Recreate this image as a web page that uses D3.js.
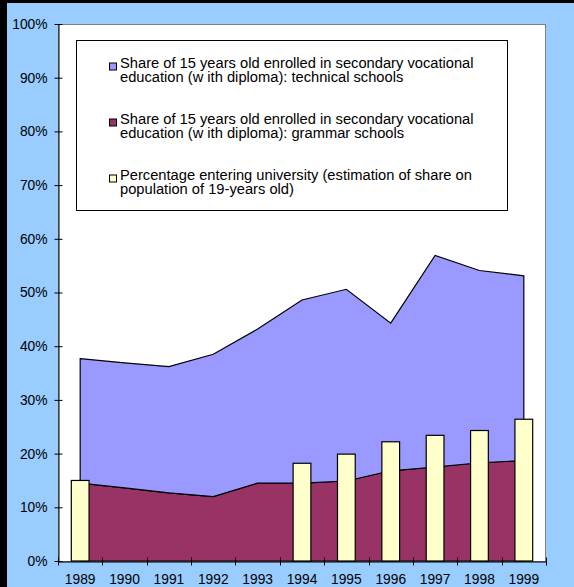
<!DOCTYPE html>
<html>
<head>
<meta charset="utf-8">
<script src="https://cdn.jsdelivr.net/npm/d3@7"></script>
<style>
  html, body { margin: 0; padding: 0; background: #99CCFF; }
  svg { display: block; }
  text { font-family: "Liberation Sans", Arial, sans-serif; fill: #000; }
</style>
</head>
<body>
<svg id="chart" width="574" height="587"></svg>
<script>
// Years on the category axis
const years = ["1989", "1990", "1991", "1992", "1993", "1994", "1995", "1996", "1997", "1998", "1999"];

// Share of 15-year-olds in grammar schools (lower stacked area)
const grammarSchools = [0.145, 0.136, 0.127, 0.120, 0.145, 0.145, 0.149, 0.168, 0.175, 0.183, 0.187];

// Share of 15-year-olds in technical schools (upper stacked area)
const technicalSchools = [0.232, 0.233, 0.235, 0.265, 0.287, 0.341, 0.357, 0.275, 0.394, 0.358, 0.344];

// Percentage entering university (columns; no figure for 1990-1993)
const universityEntry = [0.150, null, null, null, null, 0.182, 0.199, 0.222, 0.234, 0.243, 0.264];

// Value axis tick labels
const yTickValues = [0, 0.1, 0.2, 0.3, 0.4, 0.5, 0.6, 0.7, 0.8, 0.9, 1.0];

// Legend entries (each label is two lines)
const legendLabels = [
  ["Share of 15 years old enrolled in secondary vocational", "education (w ith diploma): technical schools"],
  ["Share of 15 years old enrolled in secondary vocational", "education (w ith diploma): grammar schools"],
  ["Percentage entering university (estimation of share on", "population of 19-years old)"]
];
const legendColors = ["#9999FF", "#993366", "#FFFFCC"];

const rows = years.map((y, i) => ({
  year: y,
  grammar: grammarSchools[i],
  technical: technicalSchools[i],
  university: universityEntry[i]
}));

const svg = d3.select("#chart");
const W = 574, H = 587;
const plot = { left: 58, right: 546, top: 24, bottom: 561 };

// Background and the dark frame edges
svg.append("rect").attr("width", W).attr("height", H).attr("fill", "#99CCFF");
svg.append("rect").attr("x", 0).attr("y", 0).attr("width", 7).attr("height", H).attr("fill", "#000");
svg.append("rect").attr("x", 0).attr("y", 0).attr("width", W).attr("height", 3).attr("fill", "#000");

const x = d3.scaleBand().domain(years).range([plot.left, plot.right]).padding(0);
const y = d3.scaleLinear().domain([0, 1]).range([plot.bottom, plot.top]);
const cx = d => x(d.data ? d.data.year : d.year) + x.bandwidth() / 2;

// Plot area
svg.append("rect")
  .attr("x", plot.left + 0.5).attr("y", plot.top + 0.5)
  .attr("width", plot.right - plot.left - 1).attr("height", plot.bottom - plot.top)
  .attr("fill", "#fff").attr("stroke", "#808080").attr("stroke-width", 1);

// Stacked areas
const stack = d3.stack().keys(["grammar", "technical"]);
const series = stack(rows);
const areaGen = d3.area()
  .x(d => cx(d))
  .y0(d => y(d[0]))
  .y1(d => y(d[1]));

svg.append("g").selectAll("path")
  .data(series)
  .join("path")
  .attr("d", s => areaGen(s) + "")
  .attr("fill", s => s.key === "grammar" ? "#993366" : "#9999FF")
  .attr("stroke", "#000")
  .attr("stroke-width", 1.2)
  .attr("stroke-linejoin", "miter");

// University columns
const barW = x.bandwidth() * 0.4;
svg.append("g").selectAll("rect")
  .data(rows.filter(d => d.university != null))
  .join("rect")
  .attr("x", d => cx(d) - barW / 2)
  .attr("y", d => y(d.university))
  .attr("width", barW)
  .attr("height", d => y(0) - y(d.university))
  .attr("fill", "#FFFFCC")
  .attr("stroke", "#000")
  .attr("stroke-width", 1.2);

// Value axis with ticks crossing the axis line
const yAxis = svg.append("g")
  .attr("transform", `translate(${plot.left + 0.5},0)`)
  .call(d3.axisLeft(y).tickValues(yTickValues).tickFormat(d3.format(".0%"))
    .tickSizeInner(4).tickSizeOuter(0).tickPadding(7));
yAxis.select(".domain").attr("stroke", "#000");
yAxis.selectAll(".tick line").attr("x1", 4).attr("x2", -4).attr("stroke", "#000");
yAxis.selectAll(".tick text")
  .style("font-family", "'Liberation Sans', Arial, sans-serif")
  .style("font-size", "13.8px").attr("fill", "#000");

// Category axis: labels at band centres, tick marks at band edges
const xAxis = svg.append("g")
  .attr("transform", `translate(0,${plot.bottom + 0.5})`)
  .call(d3.axisBottom(x).tickSize(0).tickPadding(13));
xAxis.select(".domain").attr("stroke", "#000");
xAxis.selectAll(".tick text")
  .style("font-family", "'Liberation Sans', Arial, sans-serif")
  .style("font-size", "13.8px").attr("fill", "#000");
const edges = years.map(yr => x(yr)).concat([x(years[years.length - 1]) + x.bandwidth()]);
xAxis.append("g").selectAll("line")
  .data(edges)
  .join("line")
  .attr("x1", d => Math.round(d) + 0.5).attr("x2", d => Math.round(d) + 0.5)
  .attr("y1", -4).attr("y2", 4)
  .attr("stroke", "#000");

// Legend
const lg = svg.append("g");
lg.append("rect")
  .attr("x", 76.5).attr("y", 40.5).attr("width", 431).attr("height", 170)
  .attr("fill", "#fff").attr("stroke", "#000").attr("stroke-width", 1);
legendLabels.forEach((lines, i) => {
  const base = 67.5 + i * 56;
  lg.append("rect")
    .attr("x", 109.5).attr("y", base - 4.5).attr("width", 7).attr("height", 7)
    .attr("fill", legendColors[i]).attr("stroke", "#000").attr("stroke-width", 1);
  const t = lg.append("text")
    .attr("x", 120).attr("y", base)
    .style("font-size", "14.7px");
  lines.forEach((ln, j) => {
    t.append("tspan").attr("x", 120).attr("y", base + j * 14.5).text(ln);
  });
});
</script>
</body>
</html>
